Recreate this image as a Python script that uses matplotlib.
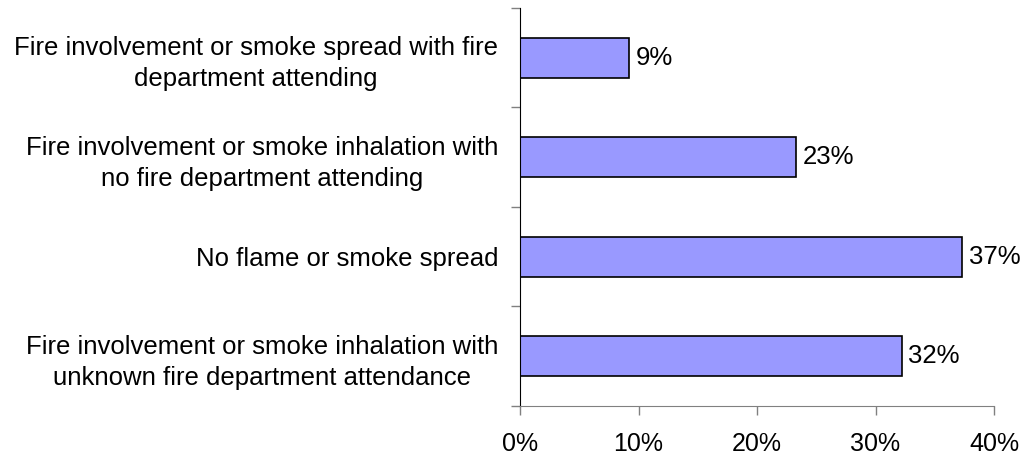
import matplotlib.pyplot as plt
from matplotlib.ticker import FixedLocator

plt.rcParams['font.family'] = ['Liberation Sans', 'DejaVu Sans']

# data, top to bottom as in the chart
categories = [
    "Fire involvement or smoke spread with fire\ndepartment attending",
    "Fire involvement or smoke inhalation with\nno fire department attending",
    "No flame or smoke spread",
    "Fire involvement or smoke inhalation with\nunknown fire department attendance",
]
shares = [9.2, 23.3, 37.3, 32.2]
xticks = [0, 10, 20, 30, 40]

fig = plt.figure(figsize=(10.33, 4.59), dpi=100)
ax = fig.add_axes([0.5034, 0.1155, 0.4589, 0.8671])

pos = list(range(len(categories)))
ax.barh(pos, shares, height=0.4, color='#9999FF', edgecolor='black', linewidth=1.2)

for p, v in zip(pos, shares):
    ax.text(v + 0.55, p, f"{round(v):.0f}%", va='center', ha='left', fontsize=18.5)

ax.set_xlim(0, 40)
ax.set_ylim(len(categories) - 0.5, -0.5)

ax.set_xticks(xticks)
ax.set_xticklabels([f"{t}%" for t in xticks], fontsize=18)

# category labels centred between the boundary ticks
ax.set_yticks(pos)
ax.set_yticklabels(categories, fontsize=18.5, multialignment='center', linespacing=1.37)
ax.tick_params(axis='y', which='major', length=0, pad=22 * 72 / 100)
ax.yaxis.set_minor_locator(FixedLocator([p - 0.5 for p in pos] + [pos[-1] + 0.5]))
ax.tick_params(axis='y', which='minor', length=6.5, width=1, color='#808080')
ax.tick_params(axis='x', length=6.5, width=1, color='#808080', pad=12)

ax.spines['top'].set_visible(False)
ax.spines['right'].set_visible(False)
ax.spines['left'].set_color('black')
ax.spines['bottom'].set_color('#808080')

fig.savefig("out.png", dpi=100)
